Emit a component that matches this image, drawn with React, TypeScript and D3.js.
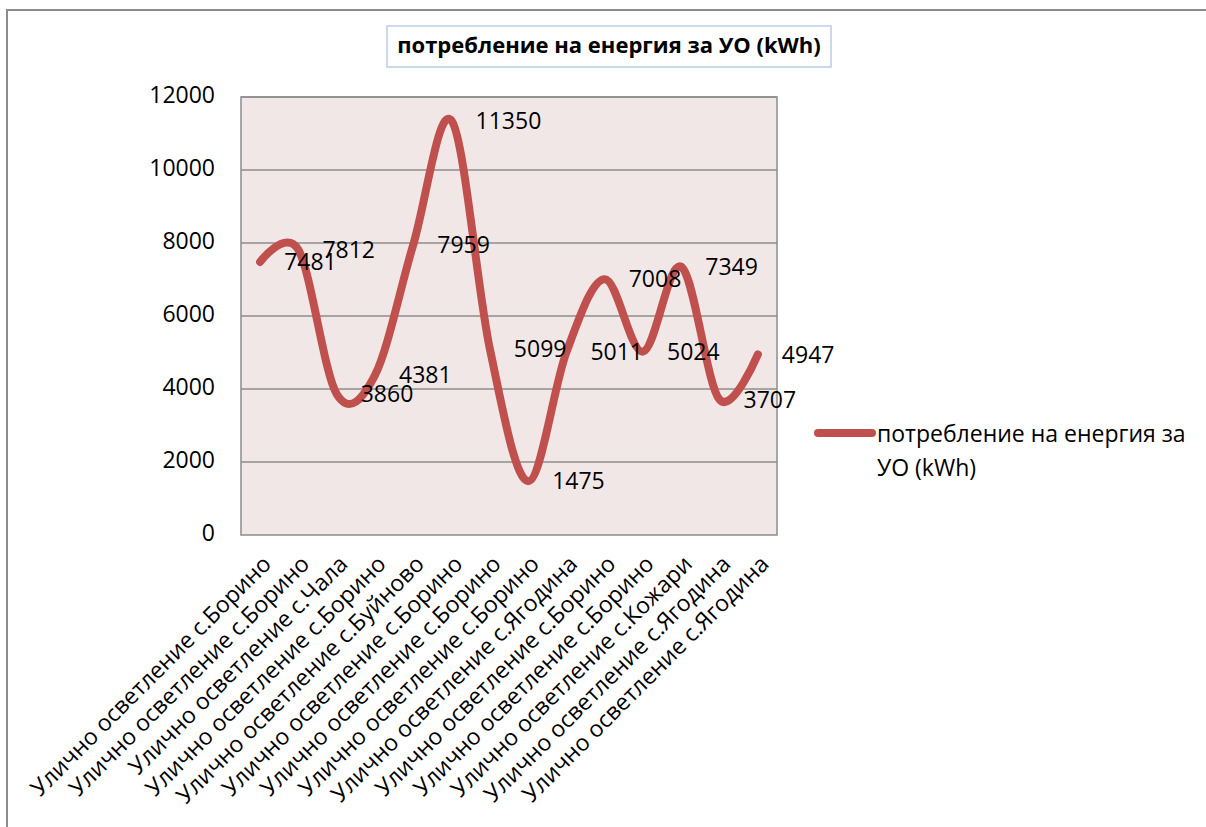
import { useEffect, useRef } from "react";
import * as d3 from "d3";

const categories = [
  "Улично осветление с.Борино",
  "Улично осветление с.Борино",
  "Улично осветление с.Чала",
  "Улично осветление с.Борино",
  "Улично осветление с.Буйново",
  "Улично осветление с.Борино",
  "Улично осветление с.Борино",
  "Улично осветление с.Борино",
  "Улично осветление с.Ягодина",
  "Улично осветление с.Борино",
  "Улично осветление с.Борино",
  "Улично осветление с.Кожари",
  "Улично осветление с.Ягодина",
  "Улично осветление с.Ягодина",
];
const values = [7481, 7812, 3860, 4381, 7959, 11350, 5099, 1475, 5011, 7008, 5024, 7349, 3707, 4947];
const yTicks = [0, 2000, 4000, 6000, 8000, 10000, 12000];
const seriesName = "потребление на енергия за УО (kWh)";
const legendLines = ["потребление на енергия за", "УО (kWh)"];

const FONT = "'Open Sans', 'Noto Sans', sans-serif";
const RED = "#C0504D";

export default function App() {
  const ref = useRef<SVGSVGElement | null>(null);

  useEffect(() => {
    if (!ref.current) return;
    const svg = d3.select(ref.current);
    svg.selectAll("*").remove();

    const plot = { left: 241, right: 777, top: 97, bottom: 535 };

    // outer chart border
    svg
      .append("rect")
      .attr("x", 7)
      .attr("y", 10)
      .attr("width", 1230)
      .attr("height", 840)
      .attr("fill", "#fff")
      .attr("stroke", "#8c8c8c")
      .attr("stroke-width", 2);

    // title box
    svg
      .append("rect")
      .attr("x", 387)
      .attr("y", 26)
      .attr("width", 444)
      .attr("height", 41)
      .attr("fill", "#fff")
      .attr("stroke", "#b9cde5")
      .attr("stroke-width", 1.5);
    svg
      .append("text")
      .attr("x", 609)
      .attr("y", 47)
      .attr("text-anchor", "middle")
      .attr("dominant-baseline", "middle")
      .attr("font-family", FONT)
      .attr("font-weight", "bold")
      .attr("font-size", 22)
      .text(seriesName);

    const x = d3
      .scaleBand<number>()
      .domain(d3.range(categories.length))
      .range([plot.left, plot.right]);
    const y = d3.scaleLinear().domain([0, 12000]).range([plot.bottom, plot.top]);
    const cx = (i: number) => (x(i) as number) + x.bandwidth() / 2;

    // plot area
    svg
      .append("rect")
      .attr("x", plot.left)
      .attr("y", plot.top)
      .attr("width", plot.right - plot.left)
      .attr("height", plot.bottom - plot.top)
      .attr("fill", "#f2e7e7")
      .attr("stroke", "#8c8c8c")
      .attr("stroke-width", 1.5);

    // gridlines
    svg
      .append("g")
      .selectAll("line")
      .data(yTicks.filter((t) => t > 0))
      .join("line")
      .attr("x1", plot.left)
      .attr("x2", plot.right)
      .attr("y1", (d) => y(d))
      .attr("y2", (d) => y(d))
      .attr("stroke", "#8c8c8c")
      .attr("stroke-width", 1.5);

    // y tick labels
    svg
      .append("g")
      .selectAll("text")
      .data(yTicks)
      .join("text")
      .attr("x", 215)
      .attr("y", (d) => y(d))
      .attr("text-anchor", "end")
      .attr("dominant-baseline", "middle")
      .attr("font-family", FONT)
      .attr("font-size", 23)
      .text((d) => d);

    // category labels, rotated
    svg
      .append("g")
      .selectAll("text")
      .data(categories)
      .join("text")
      .attr("transform", (_, i) => `translate(${cx(i) + 8},${plot.bottom + 26}) rotate(-45)`)
      .attr("text-anchor", "end")
      .attr("dominant-baseline", "middle")
      .attr("font-family", FONT)
      .attr("font-size", 23)
      .text((d) => d);

    // smoothed line
    const line = d3
      .line<number>()
      .x((_, i) => cx(i))
      .y((d) => y(d))
      .curve(d3.curveCatmullRom.alpha(0));
    svg
      .append("path")
      .datum(values)
      .attr("d", line)
      .attr("fill", "none")
      .attr("stroke", RED)
      .attr("stroke-width", 8)
      .attr("stroke-linecap", "round")
      .attr("stroke-linejoin", "round");

    // data labels
    svg
      .append("g")
      .selectAll("text")
      .data(values)
      .join("text")
      .attr("x", (_, i) => cx(i) + 24)
      .attr("y", (d) => y(d) + 2)
      .attr("dominant-baseline", "middle")
      .attr("font-family", FONT)
      .attr("font-size", 23)
      .text((d) => d);

    // legend
    svg
      .append("line")
      .attr("x1", 818)
      .attr("x2", 872)
      .attr("y1", 433)
      .attr("y2", 433)
      .attr("stroke", RED)
      .attr("stroke-width", 8)
      .attr("stroke-linecap", "round");
    svg
      .append("text")
      .attr("font-family", FONT)
      .attr("font-size", 23)
      .selectAll("tspan")
      .data(legendLines)
      .join("tspan")
      .attr("x", 877)
      .attr("y", (_, i) => 442 + i * 34)
      .text((d) => d);
  }, []);

  return (
    <svg
      ref={ref}
      width={1206}
      height={827}
      style={{ position: "absolute", left: 0, top: 0 }}
    />
  );
}
